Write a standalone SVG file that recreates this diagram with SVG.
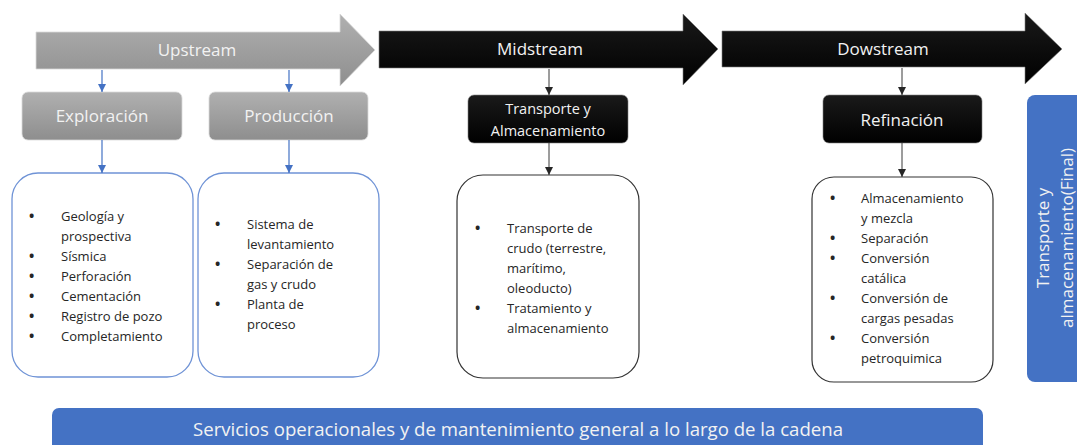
<svg xmlns="http://www.w3.org/2000/svg" width="1077" height="445" viewBox="0 0 1077 445">
<defs>
<linearGradient id="gGray" x1="0" y1="0" x2="0" y2="1">
<stop offset="0" stop-color="#b0b0b0"/><stop offset="1" stop-color="#8e8e8e"/>
</linearGradient>
<linearGradient id="gBlack" x1="0" y1="0" x2="0" y2="1">
<stop offset="0" stop-color="#1a1a1a"/><stop offset="1" stop-color="#000000"/>
</linearGradient>
<marker id="mB" viewBox="0 0 10 10" refX="10" refY="5" markerWidth="8" markerHeight="8" markerUnits="userSpaceOnUse" orient="auto">
<path d="M0,0 L10,5 L0,10 Z" fill="#4472c4"/>
</marker>
<marker id="mD" viewBox="0 0 10 10" refX="10" refY="5" markerWidth="8" markerHeight="8" markerUnits="userSpaceOnUse" orient="auto">
<path d="M0,0 L10,5 L0,10 Z" fill="#262626"/>
</marker>
<style>
text{font-family:"Open Sans","Noto Sans","Liberation Sans",sans-serif;}
.hdr{font-size:17px;fill:#f2f2f2;text-anchor:middle;}
.lst{font-size:13px;fill:#262626;}
.bul{font-size:14px;font-weight:bold;}
.wt{fill:#f2f2f2;text-anchor:middle;}
.cb{stroke:#4472c4;stroke-width:1.2;fill:none;}
.cd{stroke:#3a3a3a;stroke-width:1;fill:none;}
.db{fill:#fff;stroke:#6f93d6;stroke-width:1.3;}
.dk{fill:#fff;stroke:#333;stroke-width:1.2;}
</style>
</defs>
<rect width="1077" height="445" fill="#ffffff"/>

<g id="upstream">
<path d="M36,32 L340,32 L340,14 L375,50 L340,86 L340,69 L36,69 Z" fill="url(#gGray)" stroke="#d9d9d9" stroke-width="0.8"/>
<text class="hdr" x="197" y="56">Upstream</text>
</g>
<g id="midstream">
<path d="M379,31 L683,31 L683,14 L718,49 L683,85 L683,68 L379,68 Z" fill="url(#gBlack)" stroke="#7f7f7f" stroke-width="0.6"/>
<text class="hdr" x="540" y="55">Midstream</text>
</g>
<g id="downstream">
<path d="M722,31 L1025,31 L1025,13 L1062,49 L1025,84 L1025,67 L722,67 Z" fill="url(#gBlack)" stroke="#7f7f7f" stroke-width="0.6"/>
<text class="hdr" x="883" y="55">Dowstream</text>
</g>

<g id="exploracion">
<rect x="22" y="92" width="160" height="48" rx="6" fill="url(#gGray)" stroke="#d9d9d9" stroke-width="0.8"/>
<text class="wt" x="102" y="122" font-size="17">Exploración</text>
</g>
<g id="produccion">
<rect x="209" y="92" width="159" height="48" rx="6" fill="url(#gGray)" stroke="#d9d9d9" stroke-width="0.8"/>
<text class="wt" x="289" y="122" font-size="17">Producción</text>
</g>
<g id="transporte">
<rect x="468" y="95" width="160" height="48" rx="6" fill="url(#gBlack)" stroke="#7f7f7f" stroke-width="0.6"/>
<text class="wt" x="548" y="114" font-size="14.5">Transporte y</text>
<text class="wt" x="548" y="136" font-size="14.5">Almacenamiento</text>
</g>
<g id="refinacion">
<rect x="823" y="95" width="159" height="48" rx="6" fill="url(#gBlack)" stroke="#7f7f7f" stroke-width="0.6"/>
<text class="wt" x="902" y="126" font-size="17">Refinación</text>
</g>

<g id="exploracion-detalle">
<rect class="db" x="12" y="173" width="181" height="204" rx="26"/>
<g class="lst">
<text class="bul" x="29" y="221">•</text><text x="61" y="221">Geología y</text>
<text x="61" y="241">prospectiva</text>
<text class="bul" x="29" y="261">•</text><text x="61" y="261">Sísmica</text>
<text class="bul" x="29" y="281">•</text><text x="61" y="281">Perforación</text>
<text class="bul" x="29" y="301">•</text><text x="61" y="301">Cementación</text>
<text class="bul" x="29" y="321">•</text><text x="61" y="321">Registro de pozo</text>
<text class="bul" x="29" y="341">•</text><text x="61" y="341">Completamiento</text>
</g>
</g>
<g id="produccion-detalle">
<rect class="db" x="198" y="173" width="181" height="204" rx="26"/>
<g class="lst">
<text class="bul" x="215" y="229">•</text><text x="247" y="229">Sistema de</text>
<text x="247" y="249">levantamiento</text>
<text class="bul" x="215" y="269">•</text><text x="247" y="269">Separación de</text>
<text x="247" y="289">gas y crudo</text>
<text class="bul" x="215" y="309">•</text><text x="247" y="309">Planta de</text>
<text x="247" y="329">proceso</text>
</g>
</g>
<g id="transporte-detalle">
<rect class="dk" x="457" y="175" width="182" height="203" rx="26"/>
<g class="lst">
<text class="bul" x="475" y="233">•</text><text x="507" y="233">Transporte de</text>
<text x="507" y="253">crudo (terrestre,</text>
<text x="507" y="273">marítimo,</text>
<text x="507" y="293">oleoducto)</text>
<text class="bul" x="475" y="313">•</text><text x="507" y="313">Tratamiento y</text>
<text x="507" y="333">almacenamiento</text>
</g>
</g>
<g id="refinacion-detalle">
<rect class="dk" x="812" y="177" width="181" height="205" rx="22"/>
<g class="lst">
<text class="bul" x="830" y="203">•</text><text x="861" y="203">Almacenamiento</text>
<text x="861" y="223">y mezcla</text>
<text class="bul" x="830" y="243">•</text><text x="861" y="243">Separación</text>
<text class="bul" x="830" y="263">•</text><text x="861" y="263">Conversión</text>
<text x="861" y="283">catálica</text>
<text class="bul" x="830" y="303">•</text><text x="861" y="303">Conversión de</text>
<text x="861" y="323">cargas pesadas</text>
<text class="bul" x="830" y="343">•</text><text x="861" y="343">Conversión</text>
<text x="861" y="363">petroquimica</text>
</g>
</g>

<g id="transporte-final">
<rect x="1027" y="95" width="70" height="287" rx="8" fill="#4472c4"/>
<text class="wt" font-size="17" transform="translate(1049 238) rotate(-90)">Transporte y</text>
<text class="wt" font-size="17" transform="translate(1073 238) rotate(-90)">almacenamiento(Final)</text>
</g>

<g id="servicios">
<rect x="52" y="408" width="931" height="60" rx="7" fill="#4472c4"/>
<text class="wt" x="518" y="436" font-size="18" textLength="650" lengthAdjust="spacingAndGlyphs">Servicios operacionales y de mantenimiento general a lo largo de la cadena</text>
</g>

<g id="connectors">
<line class="cb" x1="102" y1="70" x2="102" y2="92" marker-end="url(#mB)"/>
<line class="cb" x1="102" y1="140" x2="102" y2="173" marker-end="url(#mB)"/>
<line class="cb" x1="289" y1="70" x2="289" y2="92" marker-end="url(#mB)"/>
<line class="cb" x1="289" y1="140" x2="289" y2="173" marker-end="url(#mB)"/>
<line class="cd" x1="549" y1="69" x2="549" y2="95" marker-end="url(#mD)"/>
<line class="cd" x1="549" y1="143" x2="549" y2="175" marker-end="url(#mD)"/>
<line class="cd" x1="902" y1="68" x2="902" y2="95" marker-end="url(#mD)"/>
<line class="cd" x1="902" y1="143" x2="902" y2="177" marker-end="url(#mD)"/>
</g>
</svg>
